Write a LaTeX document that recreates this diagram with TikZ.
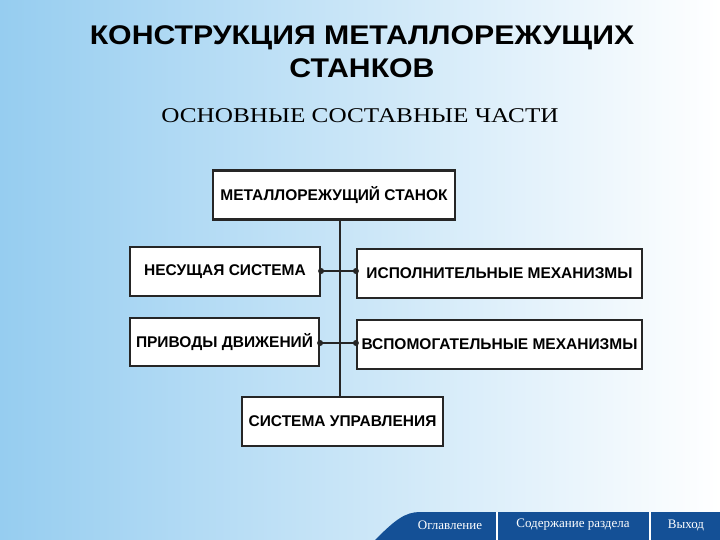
\documentclass[tikz,border=0pt]{standalone}
\usepackage{fontspec}
\usepackage{graphicx}
\setmainfont{Liberation Sans}
\newfontfamily\serifcyr{Liberation Serif}
\definecolor{bglb}{RGB}{150,205,240}
\definecolor{bar}{RGB}{20,80,150}
\begin{document}
\begin{tikzpicture}[x=1pt,y=-1pt,
  box/.style={draw=black!85,line width=2.2pt,fill=white,font=\bfseries\fontsize{15.5}{18}\selectfont,inner sep=0pt},
  conn/.style={draw=black!85,line width=2.4pt},
  dot/.style={circle,fill=black!85,inner sep=0pt,minimum size=6pt}]
\useasboundingbox (0,0) rectangle (720,540);
\shade[left color=bglb,right color=white] (0,0) rectangle (720,540);
\fill[bar] (375,540) .. controls (395,520) and (405,512) .. (420,512) -- (720,512) -- (720,540) -- cycle;
\draw[white,line width=2pt] (497,512) -- (497,540);
\draw[white,line width=2pt] (650,512) -- (650,540);
\node[white,font=\serifcyr\fontsize{13}{15}\selectfont] (b1) at (450,525) {Оглавление};
\node[white,font=\serifcyr\fontsize{13}{15}\selectfont] (b2) at (573,525) {Содержание раздела};
\node[white,font=\serifcyr\fontsize{13}{15}\selectfont] (b3) at (686,525) {Выход};
\node[font=\bfseries\fontsize{27}{33}\selectfont,align=center] (t) at (362,52) {\scalebox{1.12}[1]{КОНСТРУКЦИЯ МЕТАЛЛОРЕЖУЩИХ}\\\scalebox{1.12}[1]{СТАНКОВ}};
\node[font=\serifcyr\fontsize{21}{24}\selectfont] (st) at (360,116) {\scalebox{1.2}[1]{ОСНОВНЫЕ СОСТАВНЫЕ ЧАСТИ}};
\node[box,minimum width=242,minimum height=49] (top) at (334,195) {МЕТАЛЛОРЕЖУЩИЙ СТАНОК};
\node[box,minimum width=190,minimum height=49] (n1) at (225,271.5) {НЕСУЩАЯ СИСТЕМА};
\node[box,minimum width=285,minimum height=49] (n2) at (499.5,273.5) {ИСПОЛНИТЕЛЬНЫЕ МЕХАНИЗМЫ};
\node[box,minimum width=189,minimum height=48] (n3) at (224.5,342) {ПРИВОДЫ ДВИЖЕНИЙ};
\node[box,minimum width=285,minimum height=49] (n4) at (499.5,344.5) {ВСПОМОГАТЕЛЬНЫЕ МЕХАНИЗМЫ};
\node[box,minimum width=201,minimum height=49] (bot) at (342.5,421.5) {СИСТЕМА УПРАВЛЕНИЯ};
\coordinate (j1) at (340,271);
\coordinate (j2) at (340,343);
\draw[conn] (top.south -| j1) -- (bot.north -| j1);
\draw[conn] (n1.east |- j1) -- (n2.west |- j1);
\draw[conn] (n3.east |- j2) -- (n4.west |- j2);
\node[dot] (d1) at (n1.east |- j1) {};
\node[dot] (d2) at (n2.west |- j1) {};
\node[dot] (d3) at (n3.east |- j2) {};
\node[dot] (d4) at (n4.west |- j2) {};
\end{tikzpicture}
\end{document}
